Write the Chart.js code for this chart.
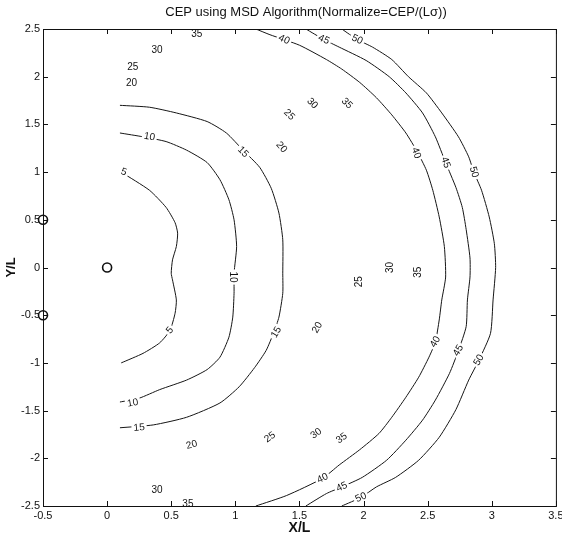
<!DOCTYPE html>
<html>
<head>
<meta charset="utf-8">
<script src="https://cdn.jsdelivr.net/npm/chart.js@4.4.0/dist/chart.umd.min.js"></script>
<style>
body { margin: 0; background: #fff; }
#wrap { width: 562px; height: 539px; }
</style>
</head>
<body>
<div id="wrap"><canvas id="myChart"></canvas></div>
<script>
// contour lines, [x/L, y/L]
const contour5 = [[0.11,1.0],[0.33,0.81],[0.46,0.63],[0.53,0.47],[0.55,0.36],[0.54,0.22],[0.51,0.08],[0.50,-0.06],
  [0.51,-0.13],[0.54,-0.34],[0.53,-0.48],[0.49,-0.66],[0.41,-0.79],[0.28,-0.90],[0.11,-1.0]]
const contour10 = [[0.10,1.41],[0.28,1.37],[0.46,1.32],[0.62,1.23],[0.78,1.10],[0.88,0.92],[0.95,0.71],[0.99,0.50],
  [1.01,0.22],[0.99,-0.06],[0.99,-0.27],[0.98,-0.52],[0.95,-0.73],[0.88,-0.94],[0.78,-1.07],[0.62,-1.18],
  [0.41,-1.28],[0.25,-1.37],[0.10,-1.41]]
const contour15 = [[0.10,1.70],[0.33,1.68],[0.54,1.62],[0.78,1.53],[0.93,1.41],[1.06,1.23],[1.19,1.05],[1.28,0.83],
  [1.34,0.57],[1.37,0.29],[1.37,-0.06],[1.37,-0.27],[1.34,-0.52],[1.30,-0.68],[1.24,-0.87],[1.15,-1.05],
  [1.03,-1.25],[0.88,-1.42],[0.62,-1.57],[0.36,-1.65],[0.10,-1.68]]
const contour40 = [[1.16,2.5],[1.27,2.44],[1.50,2.33],[1.71,2.18],[1.83,2.08],[1.97,1.94],[2.10,1.78],[2.22,1.60],
  [2.33,1.41],[2.42,1.21],[2.49,1.02],[2.54,0.81],[2.59,0.53],[2.63,0.22],[2.64,-0.10],[2.61,-0.34],
  [2.59,-0.55],[2.56,-0.78],[2.51,-0.94],[2.43,-1.15],[2.33,-1.36],[2.22,-1.57],[2.12,-1.74],[1.97,-1.91],
  [1.81,-2.07],[1.68,-2.21],[1.40,-2.39],[1.16,-2.5]]
const contour45 = [[1.55,2.5],[1.69,2.39],[1.81,2.31],[2.02,2.17],[2.20,2.0],[2.33,1.83],[2.46,1.62],[2.56,1.37],
  [2.64,1.10],[2.72,0.84],[2.77,0.63],[2.80,0.40],[2.83,0.10],[2.83,-0.10],[2.81,-0.34],[2.80,-0.62],
  [2.74,-0.87],[2.67,-1.11],[2.56,-1.39],[2.46,-1.60],[2.33,-1.81],[2.18,-2.02],[1.99,-2.20],[1.83,-2.30],
  [1.71,-2.37],[1.55,-2.5]]
const contour50 = [[1.83,2.5],[1.95,2.39],[2.07,2.31],[2.22,2.18],[2.35,2.0],[2.49,1.83],[2.61,1.62],[2.74,1.37],
  [2.82,1.16],[2.86,1.0],[2.92,0.81],[2.98,0.53],[3.02,0.25],[3.03,0.0],[3.01,-0.34],[2.99,-0.69],
  [2.90,-0.97],[2.82,-1.18],[2.72,-1.49],[2.59,-1.78],[2.43,-2.02],[2.25,-2.20],[2.10,-2.30],[1.98,-2.41],
  [1.83,-2.5]]

// contour labels: text, position, rotation (deg)
const labelText = ['5','5','10','10','10','15','15','15','40','40','40','40','45','45','45','45','50','50','50','50',
  '35','30','25','20','25','30','35','20','30','35','25','20','25','30','35','20','30','35']
const labelX = [0.13,0.49,0.33,0.98,0.20,1.06,1.32,0.25,1.38,2.41,2.56,1.68,1.69,2.64,2.74,1.83,1.95,2.86,2.90,1.98,
  0.70,0.39,0.20,0.19,1.42,1.60,1.87,1.36,2.21,2.43,1.97,1.64,1.27,1.63,1.83,0.66,0.39,0.63]
const labelY = [1.0,-0.66,1.37,-0.10,-1.42,1.21,-0.68,-1.68,2.39,1.20,-0.78,-2.21,2.39,1.10,-0.87,-2.30,2.39,1.0,-0.97,-2.41,
  2.44,2.28,2.10,1.93,1.60,1.72,1.72,1.26,0.0,-0.05,-0.15,-0.63,-1.78,-1.74,-1.79,-1.86,-2.33,-2.48]
const labelAngle = [20,-50,10,90,-10,45,-60,-5,25,70,-60,-25,25,70,-60,-25,25,75,-60,-25,
  0,0,0,0,45,45,45,50,-90,-90,-90,-60,-35,-35,-35,-15,0,0]

// sensor positions
const markerX = [-0.5, 0, -0.5]
const markerY = [0.5, 0, -0.5]

const xTicks = [-0.5, 0, 0.5, 1, 1.5, 2, 2.5, 3, 3.5]
const yTicks = [-2.5, -2, -1.5, -1, -0.5, 0, 0.5, 1, 1.5, 2, 2.5]

const fontName = '"Liberation Sans", Arial, sans-serif'

function toPoints(c) {
    return c.map(p => ({ x: p[0], y: p[1] }))
}

let lineSets = [contour5, contour10, contour15, contour40, contour45, contour50].map(c => ({
    data: toPoints(c),
    showLine: true,
    borderColor: '#151515',
    borderWidth: 1,
    pointRadius: 0,
    tension: 0.2
}))

let markers = {
    data: markerX.map((x, i) => ({ x: x, y: markerY[i] })),
    pointRadius: 4.5,
    pointBorderWidth: 1.6,
    pointBorderColor: '#111',
    pointBackgroundColor: '#fff',
    clip: false
}

const contourLabels = {
    id: 'contourLabels',
    afterDatasetsDraw(chart) {
        const ctx = chart.ctx
        const xs = chart.scales.x, ys = chart.scales.y
        ctx.save()
        ctx.font = '10px ' + fontName
        ctx.textAlign = 'center'
        ctx.textBaseline = 'middle'
        labelText.forEach((t, i) => {
            ctx.save()
            ctx.translate(xs.getPixelForValue(labelX[i]), ys.getPixelForValue(labelY[i]))
            ctx.rotate(labelAngle[i] * Math.PI / 180)
            let w = ctx.measureText(t).width
            ctx.fillStyle = '#fff'
            ctx.fillRect(-w / 2 - 2, -5, w + 4, 10)
            ctx.fillStyle = '#111'
            ctx.fillText(t, 0, 0)
            ctx.restore()
        })
        ctx.restore()
    }
}

// MATLAB style box with inward ticks, and the title
const frame = {
    id: 'frame',
    afterDraw(chart) {
        const ctx = chart.ctx
        const a = chart.chartArea
        const xs = chart.scales.x, ys = chart.scales.y
        ctx.save()
        ctx.strokeStyle = '#111'
        ctx.lineWidth = 1
        ctx.strokeRect(a.left + 0.5, a.top + 0.5, a.right - a.left, a.bottom - a.top)
        ctx.beginPath()
        xTicks.forEach(v => {
            let px = Math.round(xs.getPixelForValue(v)) + 0.5
            ctx.moveTo(px, a.bottom); ctx.lineTo(px, a.bottom - 5)
            ctx.moveTo(px, a.top); ctx.lineTo(px, a.top + 5)
        })
        yTicks.forEach(v => {
            let py = Math.round(ys.getPixelForValue(v)) + 0.5
            ctx.moveTo(a.left, py); ctx.lineTo(a.left + 5, py)
            ctx.moveTo(a.right, py); ctx.lineTo(a.right - 5, py)
        })
        ctx.stroke()
        ctx.fillStyle = '#111'
        ctx.font = '13px ' + fontName
        ctx.textAlign = 'center'
        ctx.textBaseline = 'middle'
        ctx.fillText('CEP using MSD Algorithm(Normalize=CEP/(L\u03c3))', 306, 12)
        ctx.restore()
    }
}

var ctx = document.getElementById('myChart').getContext('2d')
var chart = new Chart(ctx, {
    type: 'scatter',
    data: { datasets: lineSets.concat([markers]) },
    options: {
        responsive: true,
        maintainAspectRatio: false,
        animation: false,
        events: [],
        layout: { padding: { top: 29, right: 5, left: 0, bottom: 0 } },
        plugins: { legend: { display: false }, tooltip: { enabled: false } },
        scales: {
            x: {
                type: 'linear', min: -0.5, max: 3.5,
                afterBuildTicks: s => { s.ticks = xTicks.map(v => ({ value: v })) },
                afterFit: s => { s.height = 33; s.paddingLeft = 0; s.paddingRight = 0 },
                grid: { display: false, drawTicks: false },
                border: { display: false },
                ticks: { color: '#111', font: { size: 11, family: fontName }, padding: 3, maxRotation: 0, autoSkip: false,
                    callback: v => String(v) },
                title: { display: true, text: 'X/L', color: '#111', font: { size: 14, weight: 'bold', family: fontName }, padding: { top: 0, bottom: 2 } }
            },
            y: {
                type: 'linear', min: -2.5, max: 2.5,
                afterBuildTicks: s => { s.ticks = yTicks.map(v => ({ value: v })) },
                afterFit: s => { s.width = 43; s.paddingTop = 0; s.paddingBottom = 0 },
                grid: { display: false, drawTicks: false },
                border: { display: false },
                ticks: { color: '#111', font: { size: 11, family: fontName }, padding: 3, autoSkip: false,
                    callback: v => String(v) },
                title: { display: true, text: 'Y/L', color: '#111', font: { size: 13, weight: 'bold', family: fontName }, padding: { top: 4, bottom: 0 } }
            }
        }
    },
    plugins: [contourLabels, frame]
})
</script>
</body>
</html>
